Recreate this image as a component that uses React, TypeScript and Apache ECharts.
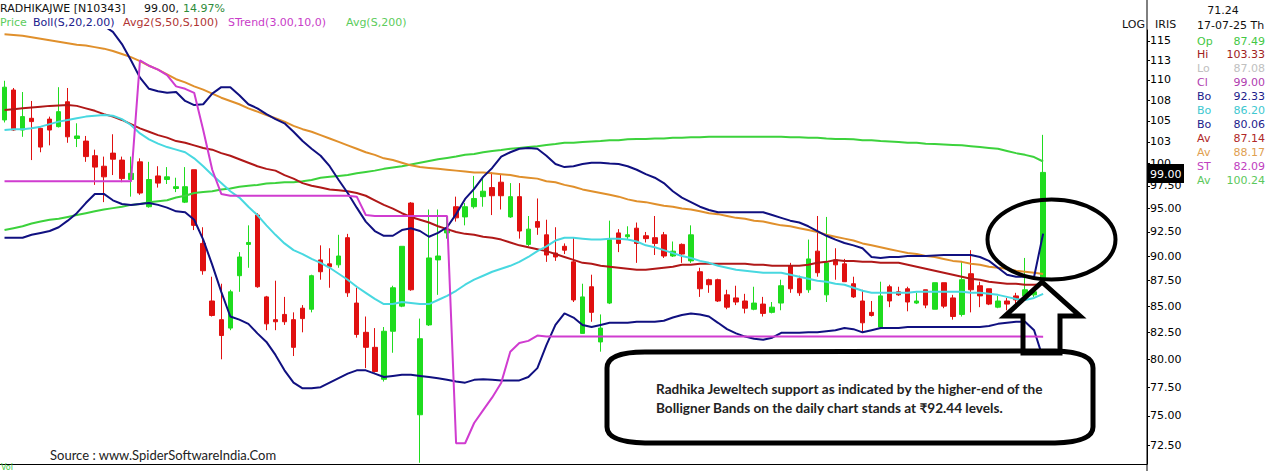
import React, { useEffect, useRef } from "react";
import * as echarts from "echarts";

// ---------------- DATA ----------------
const opens = [105.1,108.75,103.9,105.3,104.1,105.2,104.3,107.3,102.9,102.6,
100.9,99.7,101.2,100.4,98.2,100.2,95.2,98.6,98.2,97.2,
95.7,99.3,91.3,85.5,83.7,82.9,88.0,91.2,94.3,85.9,
83.7,84.2,83.7,84.8,84.7,89.6,89.2,89.1,91.9,85.3,
82.5,81.1,78.2,82.6,85.0,95.6,75.1,83.2,89.6,92.4,
95.2,94.1,95.2,96.3,97.3,97.9,94.1,96.3,91.2,93.6,
92.2,90.3,91.0,89.4,82.4,86.9,81.6,85.3,92.4,92.0,
92.9,92.1,91.9,92.2,90.0,91.2,89.5,88.4,87.6,87.6,
86.1,85.8,85.5,84.7,85.2,84.4,85.3,89.0,87.7,86.6,
90.5,86.1,89.6,89.2,87.2,85.5,84.4,83.0,86.9,86.4,
86.7,85.3,86.6,84.7,87.3,85.8,84.2,88.2,87.0,86.7,
84.9,85.5,86.0,86.0,86.1,87.49];
const highs = [109.9,109.0,108.5,107.4,104.2,105.5,109.1,109.0,104.7,103.2,
101.6,100.8,103.4,100.8,100.8,100.6,100.2,99.7,99.6,98.4,
99.6,99.3,93.0,87.9,87.2,86.6,90.4,93.2,94.5,86.0,
87.5,85.9,84.4,85.1,88.1,91.1,90.8,92.2,92.3,86.8,
84.0,82.9,83.0,87.0,91.0,95.7,83.8,94.9,94.9,94.3,
96.3,95.6,98.6,98.3,99.0,98.7,97.8,97.8,94.2,96.1,
93.8,93.0,91.3,91.9,87.2,88.1,84.2,93.7,92.8,93.1,
93.5,92.5,94.2,92.5,91.5,91.3,93.2,88.8,87.7,87.7,
86.6,87.0,86.2,86.9,85.9,85.4,87.6,89.3,88.0,91.7,
94.2,94.1,90.8,89.7,87.9,86.6,85.5,87.4,87.1,86.9,
86.9,86.3,86.6,87.3,87.3,86.1,89.4,90.6,87.4,86.7,
86.0,85.8,86.3,89.8,86.6,103.33];
const lows = [104.8,103.8,103.1,100.4,101.3,102.1,104.2,102.4,101.9,100.2,
97.6,95.7,98.7,97.9,96.3,96.5,95.1,97.3,97.7,96.8,
95.6,92.7,88.1,84.0,80.0,82.7,86.4,88.8,86.8,82.7,
82.7,83.2,80.3,82.5,84.4,87.6,86.8,88.8,85.9,82.0,
79.2,78.8,78.0,80.6,84.9,86.5,71.1,83.1,86.1,91.8,
93.6,93.2,95.0,95.2,94.3,94.9,94.0,91.8,91.0,92.2,
89.4,89.5,90.2,85.4,82.4,83.5,80.7,85.2,90.4,91.7,
89.3,91.4,90.1,89.8,89.9,89.3,89.3,85.9,86.3,85.4,
84.7,85.1,84.3,84.6,84.0,84.3,84.6,86.3,86.0,86.3,
87.9,85.4,87.6,87.4,85.8,82.5,84.0,82.8,84.9,86.0,
84.5,85.2,84.8,84.7,84.8,83.7,84.0,84.4,84.9,85.1,
84.8,84.6,85.1,85.6,85.9,87.08];
const closes = [109.1,103.9,105.5,104.9,101.9,103.9,106.1,103.1,103.2,100.8,
99.6,98.5,100.5,98.3,98.9,96.7,98.2,97.8,98.5,97.4,
97.4,93.2,88.5,84.1,82.2,86.4,89.9,91.4,86.9,83.3,
83.5,83.5,81.1,83.8,88.0,88.4,88.9,90.0,86.3,82.3,
81.1,78.9,82.6,86.8,91.0,86.6,81.9,89.8,90.0,92.8,
94.0,95.2,96.1,96.9,96.4,96.4,96.3,92.6,92.8,93.0,
90.1,89.9,90.6,85.6,85.9,84.4,82.9,91.7,91.3,92.2,
91.3,91.8,91.3,90.0,90.5,90.2,92.2,86.7,87.1,85.5,
84.9,85.4,84.8,85.3,84.3,84.9,87.0,86.7,86.3,89.7,
88.3,89.3,89.1,87.4,85.9,83.4,84.1,86.0,85.5,86.1,
85.4,85.5,85.1,87.3,85.0,84.0,87.6,86.6,86.0,85.2,
85.5,85.2,85.6,86.6,86.4,99.0];

const bollUpper = [117.6,117.8,117.9,118.0,118.1,118.3,118.4,118.2,117.9,117.6,
117.3,117.0,116.2,114.6,112.5,110.3,108.9,108.6,108.4,108.5,
107.4,106.9,107.0,108.3,109.1,109.1,108.1,107.0,106.5,105.8,
105.2,104.7,103.7,102.6,101.7,100.9,99.7,98.15,96.7,95.1,
93.6,92.6,92.1,92.1,92.7,92.9,92.6,92.0,92.4,93.0,
94.4,96.05,97.15,98.5,99.5,100.8,101.3,101.7,101.8,101.7,
100.9,99.95,99.6,99.7,99.95,100.1,100.1,100.0,99.95,99.7,
99.3,98.8,98.4,97.8,96.9,96.2,95.7,95.2,94.85,94.6,
94.6,94.6,94.6,94.6,94.6,94.3,94.0,93.7,93.5,93.1,
92.6,92.1,91.7,91.35,91.1,90.8,89.9,89.8,89.9,89.9,
90.0,90.0,90.0,90.05,90.1,90.1,90.1,90.1,89.9,89.5,
88.8,88.1,87.9,87.9,87.9,92.33];
const bollMid = [103.9,104.0,104.0,104.1,104.3,104.6,104.9,105.1,105.3,105.5,
105.6,105.7,105.6,105.2,104.5,103.5,102.8,102.3,101.9,101.6,
101.3,100.6,99.7,98.7,97.8,96.9,96.2,95.2,94.3,93.2,
92.2,91.3,90.6,90.2,89.7,89.3,88.8,88.2,87.6,86.9,
86.3,85.7,85.2,85.2,85.4,85.3,85.2,85.2,85.6,86.0,
86.5,87.1,87.6,88.0,88.4,88.7,89.0,89.4,89.9,90.5,
91.0,91.6,91.9,91.9,91.8,91.7,91.7,91.8,91.8,91.7,
91.5,91.1,90.9,90.6,90.3,90.0,89.8,89.5,89.3,89.0,
88.8,88.6,88.5,88.4,88.3,88.3,88.3,88.1,87.9,87.7,
87.5,87.4,87.2,87.1,86.8,86.5,86.3,86.3,86.3,86.3,
86.3,86.4,86.4,86.4,86.4,86.4,86.4,86.3,86.3,86.2,
86.1,85.9,85.7,85.6,85.8,86.2];
const bollLower = [91.9,91.9,91.9,92.2,92.4,92.6,93.0,93.7,94.5,95.6,
96.6,96.6,95.9,95.5,95.4,95.5,95.6,95.4,95.1,94.7,
94.6,93.8,91.7,89.1,86.4,84.0,83.7,83.3,82.4,81.6,
80.4,79.0,77.9,77.4,77.4,77.5,77.9,78.3,78.7,79.0,
79.0,78.7,78.4,78.5,78.6,78.6,78.5,78.4,78.3,78.15,
78.0,77.9,78.15,78.2,78.15,78.1,78.1,78.1,78.4,79.2,
81.3,83.2,84.3,83.9,83.2,83.0,83.2,83.4,83.4,83.4,
83.5,83.5,83.5,83.6,83.9,84.15,84.3,84.2,84.0,83.4,
82.8,82.4,82.1,81.9,81.8,82.0,82.45,82.45,82.45,82.5,
82.5,82.6,82.7,82.9,82.8,82.5,82.7,82.9,82.9,82.9,
83.0,83.0,83.0,83.0,83.0,83.0,83.0,83.0,83.0,83.1,
83.3,83.4,83.5,83.5,82.7,80.06];
const avg50 = [106.3,106.4,106.5,106.6,106.7,106.8,106.85,106.9,106.8,106.5,
106.2,105.8,105.5,105.1,104.6,104.1,103.7,103.3,103.0,102.6,
102.4,102.1,101.8,101.6,101.2,100.9,100.5,100.1,99.7,99.4,
99.2,98.7,98.3,97.8,97.5,97.3,97.1,97.0,96.9,96.7,
96.4,95.9,95.4,95.0,94.5,94.1,93.8,93.5,93.1,92.8,
92.5,92.3,92.2,92.0,91.9,91.7,91.4,91.1,90.9,90.7,
90.5,90.2,89.9,89.6,89.3,89.2,89.0,88.9,88.8,88.7,
88.6,88.6,88.7,88.8,88.9,89.1,89.1,89.2,89.2,89.2,
89.2,89.2,89.2,89.1,89.1,89.0,89.0,89.0,89.0,89.1,
89.3,89.4,89.6,89.5,89.5,89.4,89.4,89.3,89.3,89.3,
89.1,88.9,88.7,88.5,88.3,88.1,87.9,87.7,87.6,87.4,
87.3,87.2,87.2,87.1,87.1,87.14];
const avg100 = [115.9,115.8,115.7,115.5,115.3,115.1,114.9,114.7,114.5,114.4,
114.2,114.0,113.7,113.3,112.9,112.4,111.8,111.3,110.7,110.1,
109.7,109.2,108.8,108.3,107.8,107.4,107.0,106.5,106.1,105.7,
105.3,104.9,104.4,104.0,103.7,103.3,102.9,102.5,102.1,101.7,
101.3,101.0,100.6,100.4,100.1,99.8,99.6,99.5,99.4,99.3,
99.2,99.1,99.0,99.0,98.9,98.8,98.7,98.5,98.4,98.3,
98.0,97.9,97.6,97.4,97.1,96.9,96.7,96.5,96.3,96.0,
95.8,95.7,95.5,95.3,95.2,95.0,94.9,94.7,94.5,94.4,
94.2,94.0,93.9,93.7,93.6,93.4,93.2,93.1,92.9,92.7,
92.5,92.2,92.0,91.8,91.6,91.3,91.1,90.9,90.7,90.5,
90.3,90.2,90.0,89.9,89.7,89.5,89.4,89.2,89.1,88.9,
88.8,88.7,88.5,88.4,88.3,88.17];
const sTrend = [98.0,98.0,98.0,98.0,98.0,98.0,98.0,98.0,98.0,98.0,
98.0,98.0,98.0,98.0,98.0,112.5,111.8,111.3,110.6,109.2,
108.9,108.4,103.9,99.3,96.6,96.4,96.4,96.4,96.4,96.4,
96.4,96.4,96.4,96.4,96.4,96.4,96.4,96.4,96.4,96.3,
94.3,94.2,94.2,94.2,94.2,94.2,94.2,94.2,94.2,94.2,
72.7,72.7,74.4,75.5,76.6,77.9,80.7,81.5,81.7,82.2,
82.1,82.1,82.1,82.1,82.1,82.1,82.1,82.1,82.1,82.1,
82.1,82.1,82.1,82.1,82.1,82.1,82.1,82.1,82.1,82.1,
82.1,82.1,82.1,82.1,82.1,82.1,82.1,82.1,82.1,82.1,
82.1,82.1,82.1,82.1,82.1,82.1,82.1,82.1,82.1,82.1,
82.1,82.1,82.1,82.1,82.1,82.1,82.1,82.1,82.1,82.1,
82.1,82.1,82.1,82.1,82.1,82.09];
const avg200 = [92.7,92.9,93.1,93.4,93.6,93.8,93.9,94.1,94.3,94.5,
94.7,94.9,95.05,95.2,95.4,95.5,95.7,95.8,95.9,96.2,
96.4,96.7,96.8,96.9,97.1,97.2,97.4,97.5,97.6,97.75,
97.8,97.9,97.9,98.0,98.15,98.4,98.5,98.6,98.7,98.9,
99.05,99.2,99.4,99.55,99.7,99.9,100.1,100.3,100.5,100.65,
100.8,101.0,101.1,101.3,101.45,101.55,101.7,101.8,101.9,102.0,
102.15,102.25,102.4,102.4,102.5,102.55,102.6,102.7,102.7,102.8,
102.85,102.85,102.9,102.9,103.0,103.0,103.05,103.05,103.1,103.1,
103.1,103.1,103.1,103.1,103.1,103.1,103.1,103.05,103.05,103.0,
103.0,102.9,102.85,102.85,102.8,102.7,102.7,102.6,102.55,102.5,
102.4,102.4,102.3,102.25,102.2,102.15,102.1,102.0,101.9,101.8,
101.7,101.45,101.2,101.0,100.75,100.24];

const yTicks = [72.5,75,77.5,80,82.5,85,87.5,90,92.5,95,97.5,100,102.5,105,107.5,110,112.5,115];
const emptySlots = 11;

const headerName = "RADHIKAJWE [N10343]";
const headerPrice = "99.00,";
const headerChange = "14.97%";
const legendItems = ["Price", "Boll(S,20,2.00)", "Avg2(S,50,S,100)", "STrend(3.00,10,0)", "Avg(S,200)"];
const infoTop = "71.24";
const infoDate = "17-07-25 Th";
const infoLabels = ["Op","Hi","Lo","Cl","Bo","Bo","Bo","Av","Av","ST","Av"];
const infoValues = ["87.49","103.33","87.08","99.00","92.33","86.20","80.06","87.14","88.17","82.09","100.24"];
const lastPrice = "99.00";
const noteLines = [
  "Radhika Jeweltech support as indicated by the higher-end of the",
  "Bolligner Bands on the daily chart stands at \u20B992.44 levels."
];
const sourceText = "Source : www.SpiderSoftwareIndia.Com";
const volText = "Vol";

// ---------------- STYLES ----------------
const C_UP = "#1fdc1f";
const C_DOWN = "#e01010";
const C_NAVY = "#101080";
const C_CYAN = "#48d8e0";
const C_RED = "#b01818";
const C_ORANGE = "#e0902c";
const C_MAG = "#d03cd0";
const C_GREEN = "#3cd23c";
const legendColors = ["#5ccc5c", "#20208c", "#b03434", "#c83cc8", "#5ccc5c"];
const legendX = [0, 33, 123, 228, 346];
const infoColors = ["#44c844","#a02020","#c0c0c0","#b040b0","#1c1c8c","#40c8d0","#1c1c8c","#b02828","#e0a050","#c040c0","#5cc85c"];
const FONT = '"DejaVu Sans", Verdana, sans-serif';

// callout outline (annotation shape, in page pixels)
const CALLOUT_PATH = "M645 352 L1055 351 Q1093 352 1093 368 L1093 427 Q1093 442 1055 443 L645 443 Q607 442 607 427 L607 368 Q607 352 645 352 Z";
let shapeRegistered = false;

export default function App() {
  const ref = useRef<HTMLDivElement>(null);
  useEffect(() => {
    if (!ref.current) return;
    if (!shapeRegistered) {
      echarts.graphic.registerShape("calloutBox", echarts.graphic.extendPath(CALLOUT_PATH, {}));
      shapeRegistered = true;
    }
    const chart = echarts.init(ref.current, null, { renderer: "svg" });
    const n = closes.length;
    const cats = Array.from({ length: n + emptySlots }, (_, i) => String(i + 1));
    const candle = opens.map((o, i) => [o, closes[i], lows[i], highs[i]]);
    const line = (name: string, data: number[], color: string, width = 2) => ({
      name, type: "line", data, symbol: "none", showSymbol: false,
      lineStyle: { color, width }, itemStyle: { color }, silent: true, clip: true, z: 3,
    });

    const gfx: any[] = [];
    const txt = (x: number, y: number, text: string, fill: string, font = `11px ${FONT}`, align = "left", z = 100) =>
      gfx.push({ type: "text", x, y, silent: true, z, style: { text, fill, font, align, verticalAlign: "middle" } });

    // header
    txt(0, 8, headerName, "#111");
    txt(144, 8, headerPrice, "#111");
    txt(183, 8, headerChange, "#2e8b3a");
    legendItems.forEach((t, i) => txt(legendX[i], 22, t, legendColors[i]));
    txt(1122, 24, "LOG", "#111");
    txt(1155, 24, "IRIS", "#111");
    txt(1223, 10, infoTop, "#111", `11px ${FONT}`, "center");
    txt(1197, 25, infoDate, "#111");
    infoLabels.forEach((t, i) => {
      txt(1197, 41 + i * 13.9, t, infoColors[i]);
      txt(1265, 41 + i * 13.9, infoValues[i], infoColors[i], `11px ${FONT}`, "right");
    });
    // full height axis line
    gfx.push({ type: "line", silent: true, z: 50, shape: { x1: 1147, y1: 0, x2: 1147, y2: 471 }, style: { stroke: "#000", lineWidth: 1 } });
    // last price tag
    gfx.push({ type: "rect", silent: true, z: 101, shape: { x: 1148, y: 164, width: 36, height: 19 }, style: { fill: "#000" } });
    txt(1150, 174, lastPrice, "#fff", `11px ${FONT}`, "left", 102);
    // source + pane label
    txt(50, 455, sourceText, "#222", `13px Lato, "Open Sans", sans-serif`);
    txt(1, 467.5, volText, "#44c844", `8px ${FONT}`);
    // callout box
    gfx.push({ type: "calloutBox", x: 0, y: 0, silent: true, z: 60, style: { fill: "#fff", stroke: "#000", lineWidth: 5 } });
    noteLines.forEach((t, i) => { txt(656, 389 + i * 19, t, "#222", `bold 13.6px Lato, "DejaVu Sans", sans-serif`); });
    // ellipse
    gfx.push({ type: "ellipse", silent: true, z: 70, shape: { cx: 1051.5, cy: 239.5, rx: 64, ry: 40 }, style: { fill: "none", stroke: "#000", lineWidth: 4 } });
    // arrow
    gfx.push({ type: "polygon", silent: true, z: 70, shape: { points: [[1042, 282], [1080, 316], [1060, 316], [1060, 353], [1023, 353], [1023, 316], [1005, 316]] }, style: { fill: "none", stroke: "#000", lineWidth: 5, lineJoin: "miter" } });

    chart.setOption({
      animation: false,
      backgroundColor: "#fff",
      grid: { left: 0, right: 119, top: 30, bottom: 7, containLabel: false, outerBoundsMode: "none" },
      xAxis: {
        type: "category", data: cats, boundaryGap: true,
        axisLine: { show: true, lineStyle: { color: "#000", width: 1 } },
        axisTick: { show: false }, axisLabel: { show: false }, splitLine: { show: false },
      },
      yAxis: {
        type: "log", logBase: 10, position: "right", min: 71.0, max: 116.45, scale: true,
        axisLine: { show: true, lineStyle: { color: "#000" } },
        axisTick: { show: true, length: 3, customValues: yTicks, lineStyle: { color: "#000" } },
        axisLabel: {
          show: true, customValues: yTicks, margin: 3, color: "#000", fontFamily: FONT, fontSize: 11,
          formatter: (v: number) => (v >= 100 ? String(Math.round(v)) : v.toFixed(2)),
        },
        splitLine: { show: false },
      },
      series: [
        {
          type: "candlestick", data: candle, barWidth: 5, z: 2,
          itemStyle: { color: C_UP, color0: C_DOWN, borderColor: C_UP, borderColor0: C_DOWN, borderWidth: 1 },
        },
        line("ma200", avg200, C_GREEN),
        line("ma100", avg100, C_ORANGE),
        line("ma50", avg50, C_RED),
        line("bbU", bollUpper, C_NAVY),
        line("bbM", bollMid, C_CYAN),
        line("bbL", bollLower, C_NAVY),
        line("st", sTrend, C_MAG),
      ],
      graphic: { elements: gfx },
    });
    return () => chart.dispose();
  }, []);
  return <div ref={ref} style={{ position: "fixed", left: 0, top: 0, width: 1266, height: 471, background: "#fff" }} />;
}
